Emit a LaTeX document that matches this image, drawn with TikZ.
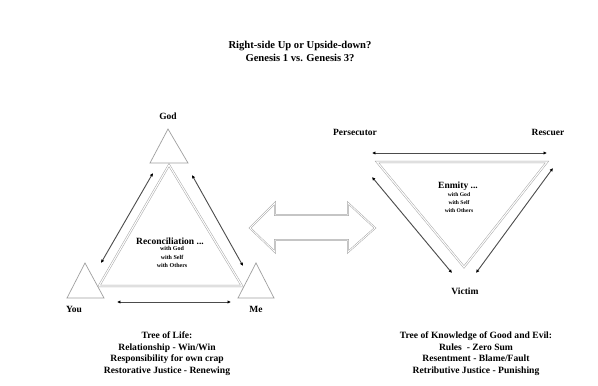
\documentclass[tikz,border=0pt]{standalone}
\usepackage{fontspec}
\setmainfont{Liberation Serif}
\usetikzlibrary{arrows.meta}
\begin{document}
\begin{tikzpicture}[x=1pt,y=-1pt,
  lbl/.style={font=\bfseries\fontsize{9.5}{10}\selectfont, inner sep=0pt},
  ttl/.style={font=\bfseries\fontsize{10.6}{13}\selectfont, align=center, inner sep=0pt},
  bot/.style={font=\bfseries\fontsize{9.6}{11.5}\selectfont, align=center, inner sep=0pt},
  mid/.style={font=\bfseries\fontsize{9.5}{10}\selectfont, align=center, inner sep=0pt},
  sml/.style={font=\bfseries\fontsize{6}{8.7}\selectfont, align=center, inner sep=0pt},
  tri/.style={draw=gray!75, line width=0.7pt, fill=white, line join=miter},
  bigtri/.style={draw=gray!70, line width=0.5pt, double=white, double distance=1.1pt, line join=miter},
  arr/.style={draw=gray!60!black, line width=0.9pt, {Latex[length=3.4pt,width=3.4pt,black]}-{Latex[length=3.4pt,width=3.4pt,black]}},
  fat/.style={draw=gray!70, line width=0.5pt, double=white, double distance=0.8pt, line join=miter}]
\useasboundingbox (0,0) rectangle (598,386);
\fill[white] (0,0) rectangle (598,386);
% title
\node[ttl] (title) at (300,51) {Right-side Up or Upside-down?\\Genesis 1 vs. Genesis 3?};
% left: big triangle
\coordinate (A) at (169,165);
\coordinate (B) at (99,286);
\coordinate (C) at (242,286);
\draw[bigtri] (A) -- (B) -- (C) -- cycle;
% small triangles
\coordinate (g1) at (168,129); \coordinate (g2) at (150,163); \coordinate (g3) at (188,163);
\draw[tri] (g1) -- (g2) -- (g3) -- cycle;
\coordinate (y1) at (85,263); \coordinate (y2) at (67,298); \coordinate (y3) at (104,298);
\draw[tri] (y1) -- (y2) -- (y3) -- cycle;
\coordinate (m1) at (256,263); \coordinate (m2) at (238,298); \coordinate (m3) at (274,298);
\draw[tri] (m1) -- (m2) -- (m3) -- cycle;
\node[lbl] (god) at (168,116) {God};
\node[lbl] (you) at (74,309) {You};
\node[lbl] (me) at (256,309) {Me};
% left arrows
\coordinate (la1) at (101,263); \coordinate (la2) at (153,173);
\coordinate (ra1) at (192,175); \coordinate (ra2) at (243,266);
\coordinate (ba1) at (117,302); \coordinate (ba2) at (231,302);
\draw[arr] (la1) -- (la2);
\draw[arr] (ra1) -- (ra2);
\draw[arr] (ba1) -- (ba2);
\node[mid] (recon) at (170,241) {Reconciliation ...};
\node[sml, anchor=north] (recw) at (172,246) {with God\\with Self\\with Others};
% double arrow
\draw[fat] (250,228) -- (275,203) -- (275,215) -- (348,215) -- (348,203) -- (375,228)
  -- (348,252) -- (348,240) -- (275,240) -- (275,252) -- cycle;
% right: inverted triangle
\coordinate (P) at (377,162);
\coordinate (R) at (547,162);
\coordinate (V) at (464,267);
\draw[bigtri] (P) -- (R) -- (V) -- cycle;
\node[lbl] (pers) at (355,132) {Persecutor};
\node[lbl] (resc) at (548,132) {Rescuer};
\node[lbl] (vict) at (465,291) {Victim};
\coordinate (ta1) at (372,153); \coordinate (ta2) at (547,153);
\coordinate (lb1) at (372,177); \coordinate (lb2) at (452,273);
\coordinate (rb1) at (553,168); \coordinate (rb2) at (476,273);
\draw[arr] (ta1) -- (ta2);
\draw[arr] (lb1) -- (lb2);
\draw[arr] (rb1) -- (rb2);
\node[mid] (enm) at (458,186) {Enmity ...};
\node[sml, anchor=north, font=\bfseries\fontsize{5.6}{8}\selectfont] (enmw) at (459,192) {with God\\with Self\\with Others};
% bottom texts
\node[bot, anchor=north] (tol) at (167,332) {Tree of Life:\\Relationship - Win/Win\\Responsibility for own crap\\Restorative Justice - Renewing};
\node[bot, anchor=north] (tok) at (476,332) {Tree of Knowledge of Good and Evil:\\Rules\ \ - Zero Sum\\Resentment - Blame/Fault\\Retributive Justice - Punishing};
\end{tikzpicture}
\end{document}
